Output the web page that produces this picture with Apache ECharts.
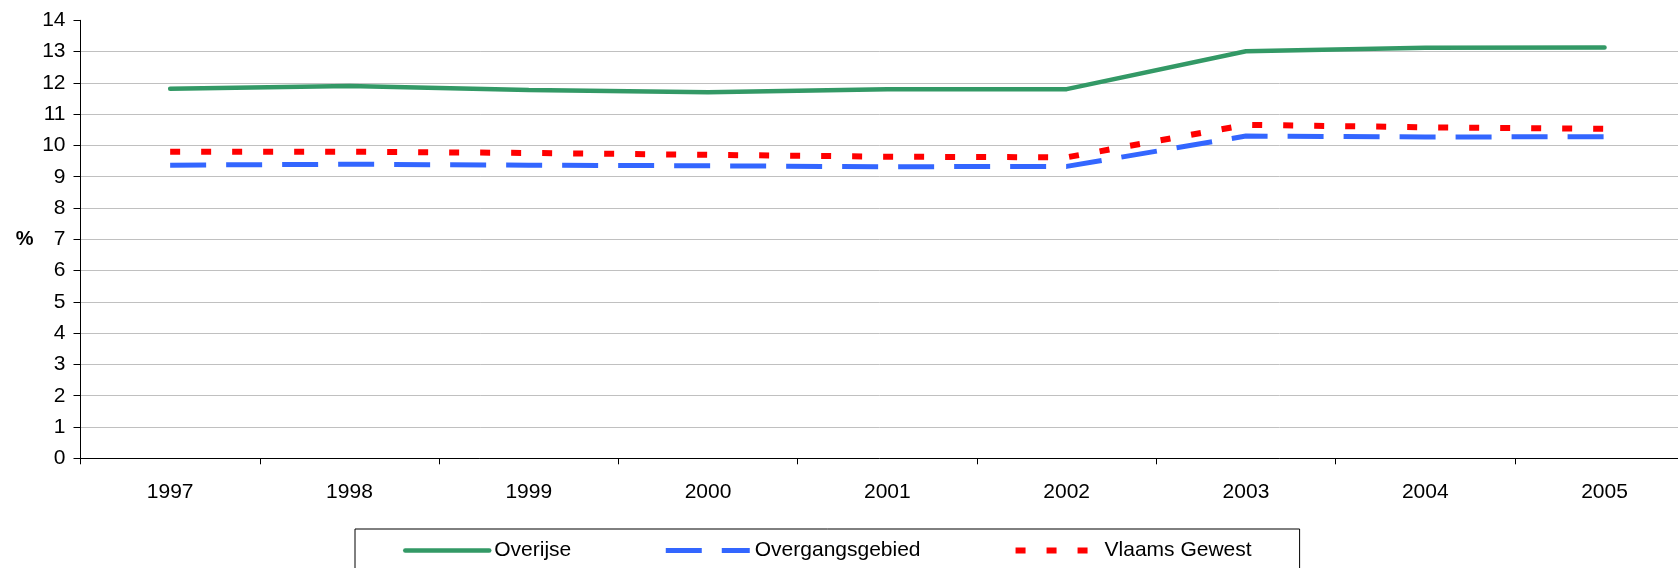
<!DOCTYPE html>
<html>
<head>
<meta charset="utf-8">
<script src="https://cdn.jsdelivr.net/npm/echarts@6/dist/echarts.min.js"></script>
<style>
html,body{margin:0;padding:0;background:#fff;}
#c{width:1678px;height:568px;}
</style>
</head>
<body>
<div id="c"></div>
<script>
const years = ['1997','1998','1999','2000','2001','2002','2003','2004','2005'];
const overijse = [11.81, 11.90, 11.77, 11.70, 11.80, 11.80, 13.01, 13.12, 13.13];
const overgangsgebied = [9.37, 9.40, 9.37, 9.35, 9.32, 9.33, 10.30, 10.27, 10.28];
const vlaamsGewest = [9.80, 9.80, 9.76, 9.70, 9.64, 9.62, 10.66, 10.58, 10.53];
const seriesNames = ['Overijse', 'Overgangsgebied', 'Vlaams Gewest'];
const seriesColors = ['#339966', '#3366FF', '#FF0000'];
const seriesWidths = [4.5, 5, 6];
const seriesDash = ['solid', [36, 20], [10, 21]];

const FONT = "Arial, 'Liberation Sans', sans-serif";
const chart = echarts.init(document.getElementById('c'), null, {renderer: 'canvas'});
chart.setOption({
  animation: false,
  backgroundColor: '#ffffff',
  textStyle: {fontFamily: FONT, color: '#000'},
  grid: {left: 80.5, width: 1613.7, top: 20.3, bottom: 109.7, containLabel: false, outerBoundsMode: 'none'},
  xAxis: {
    type: 'category',
    data: years,
    boundaryGap: true,
    axisLine: {show: true, lineStyle: {color: '#000', width: 1}},
    axisTick: {show: true, length: 6, interval: 0, lineStyle: {color: '#000', width: 1}},
    axisLabel: {interval: 0, fontSize: 21, color: '#000', fontFamily: FONT, margin: 23},
    splitLine: {show: false}
  },
  yAxis: {
    type: 'value',
    min: 0, max: 14, interval: 1,
    name: '%',
    nameLocation: 'middle',
    nameRotate: 0,
    nameGap: 47,
    nameTextStyle: {fontSize: 20, fontWeight: 'bold', color: '#000', fontFamily: FONT},
    axisLine: {show: true, lineStyle: {color: '#000', width: 1}},
    axisTick: {show: true, length: 7, lineStyle: {color: '#000', width: 1}},
    axisLabel: {fontSize: 21, color: '#000', fontFamily: FONT, margin: 15},
    splitLine: {show: true, showMaxLine: false, lineStyle: {color: '#c0c0c0', width: 1}}
  },
  legend: {
    left: 355, top: 529,
    padding: [11, 48, 40, 48],
    borderColor: '#000', borderWidth: 1, borderRadius: 0,
    itemWidth: 84, itemHeight: 14, itemGap: 92,
    textStyle: {fontSize: 21, color: '#000', fontFamily: FONT},
    data: seriesNames.map((n, i) => ({
      name: n,
      itemStyle: {opacity: 0},
      lineStyle: {color: seriesColors[i], width: seriesWidths[i], type: seriesDash[i], cap: i === 0 ? 'round' : 'butt'}
    }))
  },
  series: [
    {
      name: seriesNames[0], type: 'line', data: overijse,
      symbol: 'none', z: 3,
      lineStyle: {color: seriesColors[0], width: seriesWidths[0], cap: 'round'},
      itemStyle: {color: seriesColors[0]}
    },
    {
      name: seriesNames[1], type: 'line', data: overgangsgebied,
      symbol: 'none', z: 2,
      lineStyle: {color: seriesColors[1], width: seriesWidths[1], type: seriesDash[1], cap: 'butt'},
      itemStyle: {color: seriesColors[1]}
    },
    {
      name: seriesNames[2], type: 'line', data: vlaamsGewest,
      symbol: 'none', z: 2,
      lineStyle: {color: seriesColors[2], width: seriesWidths[2], type: seriesDash[2], cap: 'butt'},
      itemStyle: {color: seriesColors[2]}
    }
  ]
});
</script>
</body>
</html>
